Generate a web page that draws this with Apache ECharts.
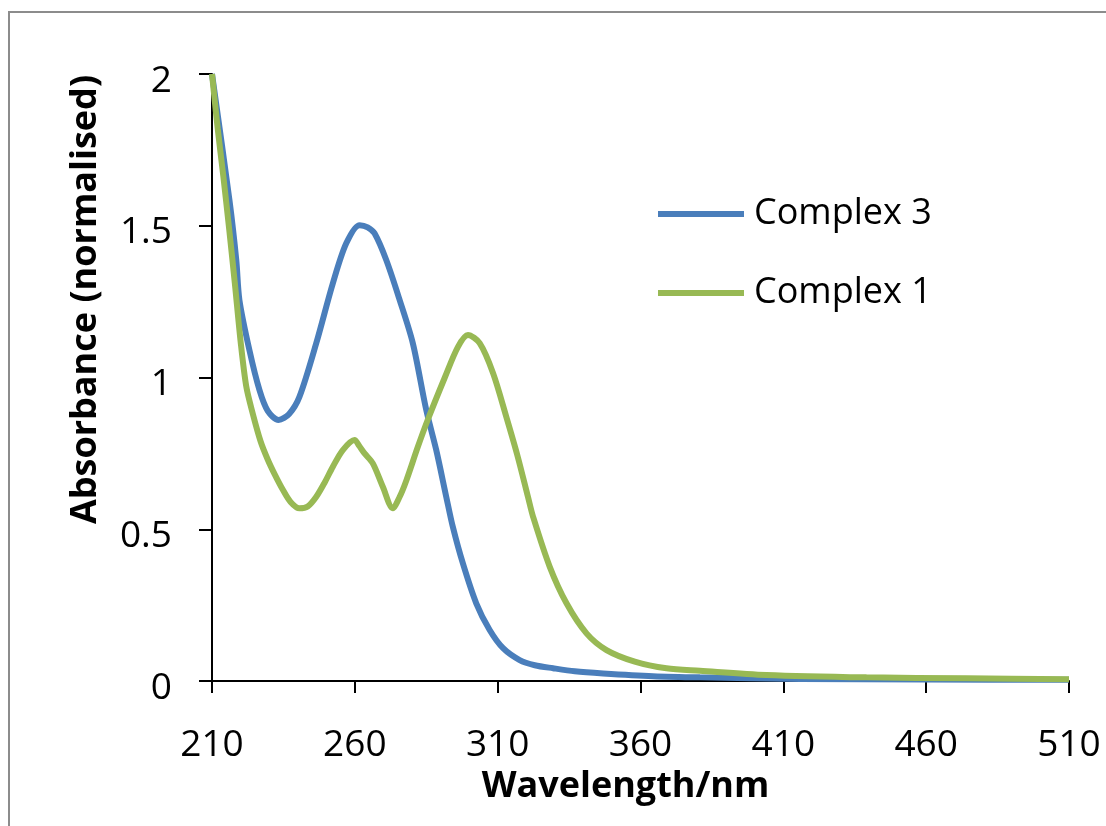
<!DOCTYPE html>
<html>
<head>
<meta charset="utf-8">
<script src="https://cdn.jsdelivr.net/npm/echarts@6/dist/echarts.min.js"></script>
<style>
  html, body { margin: 0; padding: 0; background: #fff; }
  #chart { width: 1106px; height: 826px; }
</style>
</head>
<body>
<div id="chart"></div>
<script>
// UV-vis absorption spectra, normalised
const seriesNames = ['Complex 3', 'Complex 1'];

const wavelength3 = [210, 216.1, 218.5, 219.6, 223.1, 226.6, 229.5, 233.3, 237, 240.6, 246.5, 252.3, 257, 261.7, 264.5, 266.9, 271, 275.7, 280.3, 285, 288.5, 292, 294.3, 297.8, 302.5, 307.2, 311.9, 317.7, 323, 329.4, 337, 346.9, 364.4, 380.8, 415.8, 460, 510];
const absorbance3 = [2.0, 1.585, 1.387, 1.255, 1.09, 0.959, 0.89, 0.86, 0.88, 0.936, 1.113, 1.31, 1.442, 1.502, 1.495, 1.475, 1.387, 1.255, 1.113, 0.893, 0.761, 0.607, 0.508, 0.388, 0.256, 0.168, 0.108, 0.069, 0.052, 0.042, 0.032, 0.025, 0.016, 0.012, 0.007, 0.005, 0.004];

const wavelength1 = [210, 212, 214, 216, 218, 220, 222, 224.3, 227, 229.5, 232, 234.8, 237.5, 240.6, 243.5, 246.5, 249.5, 252.3, 255.8, 259.9, 261.5, 263.4, 266.3, 269.8, 273.3, 275.7, 278, 282, 285.5, 291.5, 296.1, 299.6, 303.7, 308.4, 313, 317, 320.6, 322.4, 328.2, 334.1, 341.1, 348.1, 358, 369.1, 380.8, 404.1, 439.1, 474.2, 510];
const absorbance1 = [2.0, 1.82, 1.66, 1.49, 1.31, 1.12, 0.97, 0.88, 0.79, 0.73, 0.68, 0.63, 0.59, 0.569, 0.575, 0.607, 0.655, 0.706, 0.761, 0.794, 0.775, 0.75, 0.717, 0.64, 0.569, 0.607, 0.66, 0.77, 0.86, 1.0, 1.101, 1.14, 1.113, 1.014, 0.871, 0.74, 0.607, 0.541, 0.377, 0.256, 0.157, 0.102, 0.064, 0.042, 0.034, 0.02, 0.012, 0.009, 0.006];

const xTicks = { min: 210, max: 510, step: 50 };
const yTicks = { min: 0, max: 2, step: 0.5 };

const colors = ['#4A7EBB', '#98B954'];

function pairs(xs, ys) {
  return xs.map((x, i) => [x, ys[i]]);
}

const FONT = '"Open Sans", "Liberation Sans", sans-serif';

const chart = echarts.init(document.getElementById('chart'));
chart.setOption({
  animation: false,
  backgroundColor: '#ffffff',
  graphic: [{
    type: 'rect',
    shape: { x: 9, y: 12, width: 1200, height: 900 },
    style: { fill: 'none', stroke: '#8c8c8c', lineWidth: 2 },
    silent: true
  }],
  grid: { left: 212, right: 37, top: 74, bottom: 145, containLabel: false },
  legend: {
    orient: 'vertical',
    left: 653,
    top: 188,
    icon: 'rect',
    itemWidth: 86,
    itemHeight: 6,
    itemGap: 37,
    data: seriesNames,
    textStyle: { fontFamily: FONT, fontSize: 36, color: '#000', lineHeight: 42, padding: [0, 0, 0, 5] }
  },
  xAxis: {
    type: 'value',
    min: xTicks.min,
    max: xTicks.max,
    interval: xTicks.step,
    name: 'Wavelength/nm',
    nameLocation: 'middle',
    nameGap: 88,
    nameTextStyle: { fontFamily: FONT, fontSize: 36, fontWeight: 'bold', color: '#000', padding: [0, 30, 0, 0] },
    axisLine: { onZero: false, lineStyle: { color: '#000', width: 2 } },
    axisTick: { show: true, inside: false, length: 12, lineStyle: { color: '#000', width: 2 } },
    axisLabel: { fontFamily: FONT, fontSize: 37, color: '#000', margin: 46 },
    splitLine: { show: false }
  },
  yAxis: {
    type: 'value',
    min: yTicks.min,
    max: yTicks.max,
    interval: yTicks.step,
    name: 'Absorbance (normalised)',
    nameLocation: 'middle',
    nameGap: 108,
    nameRotate: 90,
    nameTextStyle: { fontFamily: FONT, fontSize: 36, fontWeight: 'bold', color: '#000', padding: [0, 0, 0, 156] },
    axisLine: { show: true, onZero: false, lineStyle: { color: '#000', width: 2 } },
    axisTick: { show: true, inside: false, length: 13, lineStyle: { color: '#000', width: 2 } },
    axisLabel: { fontFamily: FONT, fontSize: 37, color: '#000', margin: 40, lineHeight: 14, verticalAlign: 'top', align: 'right' },
    splitLine: { show: false }
  },
  series: [
    {
      name: seriesNames[0],
      type: 'line',
      data: pairs(wavelength3, absorbance3),
      showSymbol: false,
      symbol: 'none',
      smooth: 0.3,
      lineStyle: { color: colors[0], width: 6 },
      itemStyle: { color: colors[0] }
    },
    {
      name: seriesNames[1],
      type: 'line',
      data: pairs(wavelength1, absorbance1),
      showSymbol: false,
      symbol: 'none',
      smooth: 0.3,
      lineStyle: { color: colors[1], width: 6 },
      itemStyle: { color: colors[1] }
    }
  ]
});
</script>
</body>
</html>
